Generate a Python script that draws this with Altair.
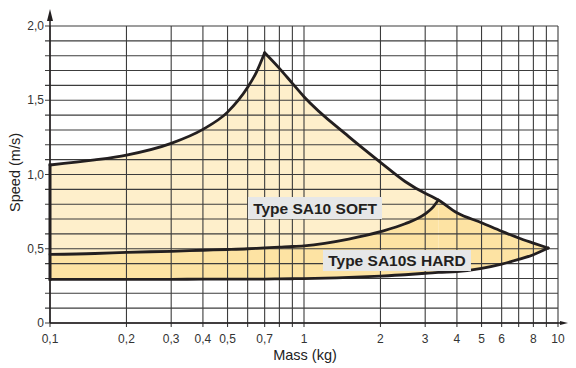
import altair as alt
import pandas as pd

# ---- data ----
mass = [0.1, 0.15, 0.2, 0.3, 0.4, 0.5, 0.6, 0.65, 0.7, 0.8, 0.9, 1.0, 1.5, 2.0,
        2.5, 3.0, 3.2, 3.38, 4, 5, 6, 7, 8, 9.15]
# upper envelope (SOFT max speed)
outer = [1.064, 1.098, 1.131, 1.21, 1.304, 1.42, 1.587, 1.69, 1.82, 1.715, 1.614,
         1.524, 1.255, 1.082, 0.953, 0.873, 0.85, 0.828, 0.742, 0.675, 0.618,
         0.572, 0.538, 0.505]
# boundary between SOFT and HARD (defined up to 3.38 kg)
inner = [0.462, 0.468, 0.476, 0.483, 0.49, 0.495, 0.5, 0.503, 0.506, 0.511, 0.515,
         0.52, 0.565, 0.615, 0.668, 0.735, 0.775, 0.828]
# lower envelope (HARD min speed)
lower = [0.294, 0.294, 0.294, 0.294, 0.295, 0.295, 0.296, 0.296, 0.296, 0.297,
         0.298, 0.299, 0.307, 0.316, 0.325, 0.335, 0.338, 0.341, 0.346, 0.368,
         0.397, 0.428, 0.46, 0.505]
PEAK = 0.7
JOIN = 3.38

x_grid = [0.1, 0.2, 0.3, 0.4, 0.5, 0.6, 0.7, 0.8, 0.9, 1, 2, 3, 4, 5, 6, 7, 8, 9, 10]
x_tick_values = [0.1, 0.2, 0.3, 0.4, 0.5, 0.7, 1, 2, 3, 4, 5, 6, 8, 10]
x_tick_labels = ["0,1", "0,2", "0,3", "0,4", "0,5", "0,7", "1", "2", "3", "4", "5", "6",
                 "8", "10"]
y_grid = [0.0, 0.1, 0.2, 0.3, 0.4, 0.5, 0.6, 0.7, 0.8, 0.9, 1.0, 1.1, 1.2, 1.3, 1.4,
          1.5, 1.6, 1.7, 1.8, 1.9, 2.0]
y_tick_values = [0.0, 0.5, 1.0, 1.5, 2.0]
y_tick_labels = ["0", "0,5", "1,0", "1,5", "2,0"]
x_title = "Mass (kg)"
y_title = "Speed (m/s)"

labels = ["Type SA10 SOFT", "Type SA10S HARD"]
label_mass = [1.105, 2.323]
label_speed = [0.774, 0.421]

SOFT_FILL = "#FEEFCB"
HARD_FILL = "#FDE3A3"
INK = "#231f20"
GRID = "#3c3c3c"
LABEL = "#333333"
FONT = "Liberation Sans"

W, H = 508, 297

# ---- tables ----
soft_rows, hard_rows, line_rows = [], [], []
for i, m in enumerate(mass):
    if m <= JOIN:
        if m <= PEAK:
            soft_rows.append({"m": m, "top": outer[i], "bot": inner[i], "seg": "L"})
        if m >= PEAK:
            soft_rows.append({"m": m, "top": outer[i], "bot": inner[i], "seg": "R"})
        hard_rows.append({"m": m, "top": inner[i], "bot": lower[i], "seg": "A"})
        line_rows.append({"m": m, "v": inner[i], "s": "inner"})
    if m >= JOIN:
        hard_rows.append({"m": m, "top": outer[i], "bot": lower[i], "seg": "B"})
    if m <= PEAK:
        line_rows.append({"m": m, "v": outer[i], "s": "outerL"})
    if m >= PEAK:
        line_rows.append({"m": m, "v": outer[i], "s": "outerR"})
    line_rows.append({"m": m, "v": lower[i], "s": "lower"})

soft_df = pd.DataFrame(soft_rows)
hard_df = pd.DataFrame(hard_rows)
line_df = pd.DataFrame(line_rows)
edge_df = pd.DataFrame({"m": [mass[0]], "a": [lower[0]], "b": [outer[0]]})
xg_df = pd.DataFrame({"m": x_grid})
yg_df = pd.DataFrame({"v": y_grid})
xl_df = pd.DataFrame({"m": x_tick_values, "t": x_tick_labels})
yl_df = pd.DataFrame({"v": y_tick_values, "t": y_tick_labels})
lab_df = pd.DataFrame({"m": label_mass, "v": label_speed, "t": labels})
one = pd.DataFrame({"k": [0]})

xs = alt.Scale(type="log", domain=[0.1, 10], nice=False)
ys = alt.Scale(domain=[0, 2], nice=False, zero=False)


def X(f):
    return alt.X(f, type="quantitative", scale=xs, axis=None)


def Y(f):
    return alt.Y(f, type="quantitative", scale=ys, axis=None, stack=None)


soft = alt.Chart(soft_df).mark_area(interpolate="monotone", color=SOFT_FILL, opacity=1).encode(
    x=X("m"), y=Y("top"), y2="bot", detail="seg:N")
hard = alt.Chart(hard_df).mark_area(interpolate="monotone", color=HARD_FILL, opacity=1).encode(
    x=X("m"), y=Y("top"), y2="bot", detail="seg:N")

# grid lines, extended a few pixels past the axes to act as tick marks
vgrid = alt.Chart(xg_df).mark_rule(color=GRID, strokeWidth=1.1).encode(
    x=X("m"), y=alt.datum(2, scale=ys, axis=None), y2=alt.value(H + 4))
hgrid = alt.Chart(yg_df).mark_rule(color=GRID, strokeWidth=1.1).encode(
    y=Y("v"), x=alt.datum(10, scale=xs, axis=None), x2=alt.value(-5))

# axis lines with arrow heads
yline = alt.Chart(one).mark_rule(color=INK, strokeWidth=1.5).encode(
    x=alt.value(0), y=alt.value(-8), y2=alt.value(H))
yhead = alt.Chart(one).mark_point(shape="M0,-1L0.5,1L-0.5,1Z", size=144, filled=True,
                                  color=INK, opacity=1, strokeWidth=0).encode(
    x=alt.value(0), y=alt.value(-11))
xline = alt.Chart(one).mark_rule(color=INK, strokeWidth=1.5).encode(
    x=alt.value(0), x2=alt.value(W + 5), y=alt.value(H))
xhead = alt.Chart(one).mark_point(shape="M1,0L-1,0.5L-1,-0.5Z", size=64, filled=True,
                                  color=INK, opacity=1, strokeWidth=0).encode(
    x=alt.value(W + 6), y=alt.value(H))

# tick labels and axis titles
xlabels = alt.Chart(xl_df).mark_text(font=FONT, fontSize=12, color=LABEL, align="center",
                                     baseline="alphabetic").encode(
    x=X("m"), y=alt.value(H + 20), text="t:N")
ylabels = alt.Chart(yl_df).mark_text(font=FONT, fontSize=12, color=LABEL, align="right",
                                     baseline="middle").encode(
    y=Y("v"), x=alt.value(-6), text="t:N")
xtitle = alt.Chart(one).mark_text(font=FONT, fontSize=14.5, color="#222222", align="center",
                                  baseline="alphabetic", text=x_title).encode(
    x=alt.value(W / 2 + 1), y=alt.value(H + 37))
ytitle = alt.Chart(one).mark_text(font=FONT, fontSize=14.5, color="#222222", align="center",
                                  baseline="middle", angle=270, text=y_title).encode(
    x=alt.value(-34), y=alt.value(H / 2 - 2))

curves = alt.Chart(line_df).mark_line(interpolate="monotone", color=INK, strokeWidth=2.8,
                                      strokeCap="round", strokeJoin="round").encode(
    x=X("m"), y=Y("v"), detail="s:N")
edge = alt.Chart(edge_df).mark_rule(color=INK, strokeWidth=3, strokeCap="square").encode(
    x=X("m"), y=Y("a"), y2="b")

box_soft = alt.Chart(lab_df.iloc[[0]]).mark_rect(width=134, height=22, color="#e6e7e8").encode(
    x=X("m"), y=Y("v"))
box_hard = alt.Chart(lab_df.iloc[[1]]).mark_rect(width=148, height=21, color="#e6e7e8").encode(
    x=X("m"), y=Y("v"))
texts = alt.Chart(lab_df).mark_text(font=FONT, fontWeight="bold", fontSize=15.5, color=INK,
                                    align="center", baseline="middle", dy=1).encode(
    x=X("m"), y=Y("v"), text="t:N")

chart = alt.layer(
    soft, hard, vgrid, hgrid, yline, yhead, xline, xhead, xlabels, ylabels, xtitle, ytitle,
    curves, edge, box_soft, box_hard, texts
).properties(
    width=W, height=H,
    autosize=alt.AutoSizeParams(type="none"),
    padding={"left": 42, "top": 18, "right": 10, "bottom": 41},
    background="white",
).configure_view(stroke=None)

chart.save("out.html", embed_options={"renderer": "svg", "actions": False})
